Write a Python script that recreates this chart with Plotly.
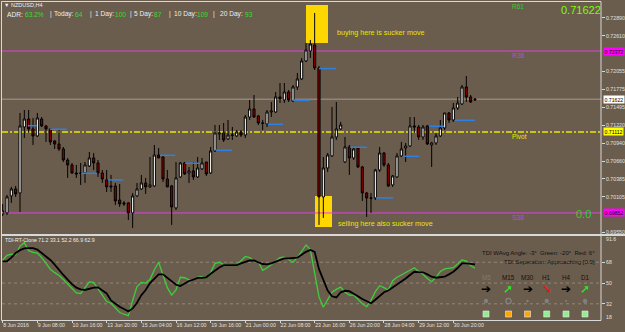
import plotly.graph_objects as go

# ---------------- data ----------------
bar_idx = list(range(110))
opens = [0.69837,0.69852,0.70117,0.70225,0.70163,0.71190,0.71314,0.71159,0.71050,0.71314,
         0.71206,0.71159,0.70972,0.70925,0.70848,0.70676,0.70599,0.70474,0.70467,0.70474,
         0.70583,0.70708,0.70630,0.70474,0.70366,0.70272,0.70272,0.70054,0.70008,0.70008,
         0.69852,0.70117,0.70225,0.70319,0.70257,0.70272,0.70754,0.70723,0.70381,0.70272,
         0.69930,0.70412,0.70630,0.70474,0.70506,0.70412,0.70537,0.70645,0.70474,0.70817,
         0.71081,0.71097,0.71003,0.71058,0.71050,0.71112,0.71065,0.71345,0.71470,0.71361,
         0.71244,0.71237,0.71423,0.71423,0.71657,0.71610,0.71734,0.71594,0.71812,0.71937,
         0.72217,0.72372,0.72466,0.72108,0.70101,0.70552,0.70739,0.71034,0.71159,0.70645,
         0.70879,0.70708,0.70863,0.70568,0.70163,0.70078,0.70086,0.70521,0.70785,0.70599,
         0.70288,0.70412,0.70739,0.70863,0.70894,0.71206,0.71190,0.71034,0.71206,0.70910,
         0.70941,0.71050,0.71174,0.71408,0.71299,0.71485,0.71548,0.71812,0.71657,0.71610]
highs = [0.69992,0.70132,0.70257,0.70272,0.71408,0.71454,0.71454,0.71330,0.71408,0.71345,
         0.71221,0.71159,0.70988,0.71143,0.70879,0.70708,0.70630,0.70599,0.70630,0.70645,
         0.70801,0.70785,0.70676,0.70521,0.70521,0.70443,0.70319,0.70303,0.70039,0.70023,
         0.70163,0.70319,0.70443,0.70397,0.70723,0.70910,0.70863,0.70754,0.70521,0.70288,
         0.70645,0.70645,0.70645,0.70568,0.70645,0.70723,0.70708,0.70645,0.70879,0.71221,
         0.71221,0.71252,0.71299,0.71190,0.71143,0.71143,0.71377,0.71610,0.71688,0.71377,
         0.71299,0.71454,0.71579,0.71734,0.71874,0.71874,0.71766,0.71843,0.72030,0.72263,
         0.72497,0.72544,0.72964,0.72139,0.70723,0.70785,0.71501,0.71579,0.71268,0.71034,
         0.70910,0.70879,0.70879,0.70583,0.70179,0.70163,0.70537,0.70879,0.70801,0.70630,
         0.70443,0.70785,0.70957,0.70941,0.71345,0.71345,0.71221,0.71221,0.71221,0.70957,
         0.71097,0.71299,0.71408,0.71423,0.71563,0.71657,0.71843,0.71983,0.71688,0.71641]
lows = [0.69806,0.69821,0.70008,0.70101,0.69868,0.71019,0.71097,0.70910,0.71034,0.71190,
        0.70957,0.70910,0.70848,0.70817,0.70645,0.70397,0.70459,0.70397,0.70288,0.70319,
        0.70568,0.70521,0.70412,0.70319,0.70179,0.70179,0.69977,0.69946,0.69961,0.69743,
        0.69619,0.70101,0.70210,0.70148,0.70241,0.70257,0.70708,0.70334,0.70257,0.69666,
        0.69899,0.70397,0.70443,0.70319,0.70366,0.70397,0.70521,0.70428,0.70459,0.70801,
        0.70988,0.70957,0.70988,0.70988,0.71034,0.71034,0.71019,0.71299,0.71330,0.71221,
        0.71143,0.71190,0.71345,0.71408,0.71563,0.71563,0.71579,0.71579,0.71766,0.71921,
        0.72201,0.72263,0.72077,0.69666,0.69775,0.70490,0.70723,0.70988,0.71143,0.70630,
        0.70443,0.70676,0.70552,0.70039,0.69790,0.69852,0.70054,0.70490,0.70568,0.70257,
        0.70257,0.70397,0.70723,0.70645,0.70879,0.71097,0.70988,0.70988,0.70910,0.70568,
        0.70910,0.71034,0.71143,0.71252,0.71268,0.71454,0.71532,0.71579,0.71563,0.71594]
closes = [0.69884,0.70101,0.70225,0.70148,0.71206,0.71314,0.71159,0.71050,0.71330,0.71206,
          0.71159,0.70957,0.70925,0.70848,0.70676,0.70599,0.70474,0.70459,0.70474,0.70599,
          0.70708,0.70630,0.70474,0.70381,0.70257,0.70257,0.70039,0.69992,0.69992,0.69852,
          0.70117,0.70225,0.70319,0.70257,0.70288,0.70754,0.70708,0.70381,0.70257,0.69946,
          0.70397,0.70630,0.70459,0.70506,0.70412,0.70552,0.70630,0.70459,0.70817,0.71097,
          0.71097,0.70988,0.71065,0.71065,0.71112,0.71065,0.71345,0.71470,0.71345,0.71252,
          0.71252,0.71423,0.71439,0.71657,0.71626,0.71734,0.71610,0.71812,0.71937,0.72217,
          0.72388,0.72481,0.72108,0.70101,0.70552,0.70754,0.71034,0.71159,0.71221,0.70879,
          0.70708,0.70848,0.70568,0.70163,0.70086,0.70086,0.70521,0.70785,0.70599,0.70272,
          0.70428,0.70739,0.70848,0.70894,0.71206,0.71190,0.71034,0.71190,0.70925,0.70941,
          0.71050,0.71174,0.71408,0.71299,0.71485,0.71563,0.71812,0.71657,0.71579,0.71622]

tdi_green = [70, 74, 75, 74.5, 82, 85, 78, 76.5, 76, 72,
             67, 62, 59, 56.5, 53, 49, 45, 41.5, 41, 46,
             51, 50.5, 45, 39, 34, 32.5, 28, 24.5, 23, 21.7,
             35, 47, 50.5, 50, 53, 61.5, 68, 57, 46, 39.6,
             44, 55, 54.6, 52.8, 53, 55, 55.5, 54.5, 59, 67,
             68, 66, 65.6, 65.6, 65.6, 69, 73, 72, 69, 68.5,
             61, 63, 66, 69.5, 72, 72.5, 70, 68, 72, 77,
             83, 79, 60, 38, 29, 36, 42, 44.5, 46.5, 42,
             39.6, 39.6, 36, 32, 29.5, 35, 42.5, 47.7, 46, 44,
             52, 55, 57, 59, 61.5, 63.3, 60, 57.6, 54, 51.2,
             55, 60, 62.2, 62.5, 63.3, 66.5, 70, 69, 65, 62.8]
tdi_black = [68.5, 69, 72, 76, 78.5, 80, 80.3, 80.3, 79, 76,
             73, 70, 66, 61, 57, 53, 49, 46, 44.5, 44,
             45, 46, 46.3, 44, 41, 35, 32, 29.5, 27.5, 25.5,
             28, 33, 39.5, 44, 50, 54, 57.5, 57.5, 54.5, 51.5,
             48.5, 47.5, 49.5, 51.8, 53, 54.5, 54.6, 55, 58, 61,
             63.5, 65.5, 65.6, 65.6, 65.6, 67, 68.5, 69.5, 69.5, 68,
             66.5, 66.2, 67, 68.5, 70, 71.4, 71.4, 71.4, 72, 74.5,
             77, 78.6, 77, 62, 52, 43.5, 38.5, 37.5, 42, 43.3,
             43, 41, 38.5, 36.2, 34, 32.5, 35.5, 38.5, 42, 43.5,
             46, 48.5, 51, 54, 57, 59.8, 59.5, 59.3, 57.5, 55.5,
             54.6, 55, 55.5, 57.5, 59.8, 63, 67, 67, 66.5, 66.2]

daily_open_start = [5.8, 10.9, 18.1, 24.3, 36.3, 42.1, 49.2, 61.2, 67.0, 73.0, 80.2, 86.2, 92.4, 98.4, 104.4]
daily_open_end   = [7.9, 14.8, 21.8, 27.8, 39.8, 45.5, 52.9, 64.7, 70.9, 76.9, 84.1, 90.1, 96.1, 101.9, 109.0]
daily_open_level = [0.71210, 0.71154, 0.70469, 0.70366, 0.70749, 0.70625, 0.70827, 0.71232,
                    0.71605, 0.72099, 0.70874, 0.70086, 0.70734, 0.71201, 0.71294]

price_ticks = [0.72890, 0.72610, 0.72055, 0.71775, 0.71495, 0.71220,
               0.70940, 0.70660, 0.70385, 0.70105, 0.69550]
tdi_ticks = [68, 50, 32]
time_tick_idx = [0, 8, 16, 24, 32, 40, 48, 56, 64, 72, 80, 88, 96, 104]
time_tick_labels = ["8 Jun 2016", "9 Jun 08:00", "10 Jun 16:00", "13 Jun 20:00", "15 Jun 04:00",
                    "16 Jun 12:00", "19 Jun 16:00", "21 Jun 00:00", "22 Jun 08:00", "23 Jun 16:00",
                    "26 Jun 20:00", "28 Jun 04:00", "29 Jun 12:00", "30 Jun 20:00"]

pivot = 0.71112
r38 = 0.72372
s38 = 0.69852
last_price = 0.71622

header_parts = [("ADR:", "w"), ("63.2%", "g"), ("|", "w"), ("Today:", "w"), ("64", "g"),
                ("|", "w"), ("1 Day:", "w"), ("100", "g"), ("|", "w"), ("5 Day:", "w"),
                ("87", "g"), ("|", "w"), ("10 Day:", "w"), ("109", "g"), ("|", "w"),
                ("20 Day:", "w"), ("93", "g")]
tf_labels = ["M5", "M15", "M30", "H1", "H4", "D1"]
tf_arrows = ["➔", "➚", "➔", "➘", "➔", "➚"]
tf_arrow_colors = ["#000000", "#22ee22", "#000000", "#ee1111", "#000000", "#22ee22"]
tf_square_colors = ["#90ee90", "#ffa500", "#ffa500", "#90ee90", "#90ee90", "#90ee90"]

# ---------------- layout helpers (pixel -> paper) ----------------
W, H = 625, 332
L_PX, R_PX, T_PX, B_PX = 2, 601, 3, 320
def PX(x): return (x - L_PX) / (R_PX - L_PX)
def PY(y): return (B_PX - y) / (B_PX - T_PX)

BG = "#6b5d4d"
FG = "#d8d8d8"
FONT = "Liberation Sans"
XR = [-0.155, 138.08]

fig = go.Figure()

fig.add_trace(go.Candlestick(
    x=bar_idx, open=opens, high=highs, low=lows, close=closes,
    increasing=dict(line=dict(color="black", width=1), fillcolor="white"),
    decreasing=dict(line=dict(color="black", width=1), fillcolor="#8b0000"),
    whiskerwidth=0, xaxis="x", yaxis="y", showlegend=False, hoverinfo="skip"))

bx, by = [], []
for s, e, v in zip(daily_open_start, daily_open_end, daily_open_level):
    bx += [s, e, None]
    by += [v, v, None]
fig.add_trace(go.Scatter(x=bx, y=by, mode="lines", line=dict(color="#2f80e0", width=1.5),
                         xaxis="x", yaxis="y", showlegend=False, hoverinfo="skip"))

fig.add_trace(go.Scatter(x=bar_idx, y=tdi_green, mode="lines", line=dict(color="#3ccf3c", width=1.3),
                         xaxis="x2", yaxis="y2", showlegend=False, hoverinfo="skip"))
fig.add_trace(go.Scatter(x=bar_idx, y=tdi_black, mode="lines", line=dict(color="#000000", width=1.8),
                         xaxis="x2", yaxis="y2", showlegend=False, hoverinfo="skip"))

shapes = []
shapes.append(dict(type="rect", xref="paper", yref="paper", x0=PX(306), x1=PX(328), y0=PY(43), y1=PY(5),
                   fillcolor="#ffd700", line=dict(width=0), layer="below"))
shapes.append(dict(type="rect", xref="paper", yref="paper", x0=PX(315), x1=PX(332), y0=PY(227), y1=PY(196),
                   fillcolor="#ffd700", line=dict(width=0), layer="below"))
for lvl, col, dash, wd in [(r38, "#e040e0", "solid", 1), (s38, "#e040e0", "solid", 1),
                           (last_price, "#a09a94", "solid", 1), (pivot, "#e8e800", "6px,2px,2px,2px", 1.5)]:
    shapes.append(dict(type="line", xref="paper", yref="y", x0=0, x1=1, y0=lvl, y1=lvl,
                       line=dict(color=col, width=wd, dash=dash), layer="below"))
for t in tdi_ticks:
    shapes.append(dict(type="line", xref="paper", yref="y2", x0=0, x1=1, y0=t, y1=t,
                       line=dict(color="#958777", width=1, dash="dot"), layer="below"))
shapes.append(dict(type="rect", xref="paper", yref="paper", x0=PX(1.5), x1=PX(601), y0=PY(320.5), y1=PY(1.5),
                   line=dict(color=FG, width=1)))
shapes.append(dict(type="line", xref="paper", yref="paper", x0=PX(1.5), x1=PX(625), y0=PY(235), y1=PY(235),
                   line=dict(color=FG, width=2)))

tf_x = [486, 508.5, 527.5, 546.7, 566, 585]
for i, cx in enumerate(tf_x):
    shapes.append(dict(type="rect", xref="paper", yref="paper", x0=PX(cx - 3), x1=PX(cx + 3),
                       y0=PY(317), y1=PY(311), fillcolor=tf_square_colors[i],
                       line=dict(color="#e8e8e8", width=0.6)))
dot_r = [2.2, 2.5, 1.2, 2.2, 1.0, 2.2]
for i, cx in enumerate(tf_x):
    if i == 1:
        shapes.append(dict(type="circle", xref="paper", yref="paper", x0=PX(cx - 2.6), x1=PX(cx + 2.6),
                           y0=PY(303.6), y1=PY(298.4), line=dict(color="#858585", width=1.2)))
    else:
        r = dot_r[i]
        shapes.append(dict(type="circle", xref="paper", yref="paper", x0=PX(cx - r), x1=PX(cx + r),
                           y0=PY(301 + r), y1=PY(301 - r), fillcolor="#808080", line=dict(width=0)))

ann = []
def A(text, x, y, size, color, xanchor="left", family=FONT, **kw):
    ann.append(dict(text=text, x=PX(x), y=PY(y), xref="paper", yref="paper", showarrow=False,
                    xanchor=xanchor, yanchor="middle", font=dict(family=family, size=size, color=color), **kw))

A("▼ NZDUSD,H4", 2, 5.5, 5.5, "#eeeeee")
hx = [5, 22.5, 47.5, 51.7, 73.3, 88.3, 93.3, 113.3, 128.3, 131.7, 151.7, 166.7, 171.7, 195, 210.7, 218.3, 243.3]
for (t, c), x in zip(header_parts, hx):
    A(t, x, 14, 6.6, "#32dd32" if c == "g" else "#eeeeee")

A("0.71622", 581, 10.5, 11, "#7cfc00", xanchor="center")
A("0.0", 583, 214, 11, "#32cd32", xanchor="center")
A("R61", 518, 6, 6.5, "#32cd32", xanchor="center")
A("R38", 518, 55.7, 6.5, "#d040d0", xanchor="center")
A("Pivot", 519, 136.7, 6.5, "#e8e800", xanchor="center")
A("S38", 518, 217.3, 6.5, "#d040d0", xanchor="center")
A("buying here is sucker move", 335, 33, 7.2, "#e6e600")
A("selling here also sucker move", 335.5, 223.3, 7.2, "#e6e600")

A("TDI-RT-Clone 71.2 33.1 52.2 66.9 62.9", 3, 240, 5.2, "#eeeeee")
A("TDI WAvg Angle: -3°  Green: -20°  Red: 6°", 597, 253.3, 6, "#111111", xanchor="right")
A("TDI Seperation: Approaching [0.9]", 597, 261.7, 6, "#111111", xanchor="right")
for i, cx in enumerate(tf_x):
    A(tf_labels[i], cx, 277.3, 6.3, "#85786b" if i == 0 else "#111111", xanchor="center")
    A(tf_arrows[i], cx, 289, 12, tf_arrow_colors[i], xanchor="center", family="DejaVu Sans")

for val, bg, txt in [(r38, "#ff00ff", f"{r38:.5f}"), (last_price, "#ffffff", f"{last_price:.5f}"),
                     (pivot, "#ffff00", f"{pivot:.5f}"), (s38, "#ff00ff", f"{s38:.5f}")]:
    ann.append(dict(text=txt, x=1, y=val, xref="paper", yref="y", showarrow=False, xanchor="left",
                    yanchor="middle", xshift=2, bgcolor=bg, borderpad=0.5,
                    font=dict(family=FONT, size=5.2, color="#000000")))
A("91.6", 604, 239.3, 5.2, "#e0e0e0")
A("18", 604, 317.3, 5.2, "#e0e0e0")

main_lo = (B_PX - 233) / (B_PX - T_PX)
ind_hi = (B_PX - 235) / (B_PX - T_PX)

fig.update_layout(
    width=W, height=H, margin=dict(l=L_PX, r=W - R_PX, t=T_PX, b=H - B_PX),
    paper_bgcolor=BG, plot_bgcolor=BG, template="none", showlegend=False,
    shapes=shapes, annotations=ann,
    xaxis=dict(domain=[0, 1], range=XR, anchor="y", showticklabels=False, showgrid=False,
               zeroline=False, showline=False, ticks="", rangeslider=dict(visible=False),
               automargin=False, fixedrange=True),
    yaxis=dict(domain=[main_lo, 1], range=[0.69540, 0.73119], side="right", anchor="x",
               tickvals=price_ticks, ticktext=[f"{v:.5f}" for v in price_ticks],
               ticks="outside", ticklen=3, tickcolor=FG, showgrid=False, zeroline=False,
               showline=False, tickfont=dict(family=FONT, size=5.2, color="#e0e0e0"),
               automargin=False, fixedrange=True),
    xaxis2=dict(domain=[0, 1], range=XR, anchor="y2", tickvals=time_tick_idx, ticktext=time_tick_labels,
                ticks="outside", ticklen=2, tickcolor=FG, ticklabelposition="outside right",
                tickangle=0, tickfont=dict(family=FONT, size=5.2, color="#e0e0e0"), showgrid=False,
                zeroline=False, showline=False, automargin=False, fixedrange=True),
    yaxis2=dict(domain=[0, ind_hi], range=[18, 91.6], side="right", anchor="x2",
                tickvals=tdi_ticks, ticktext=[str(t) for t in tdi_ticks], ticks="outside", ticklen=3,
                tickcolor=FG, showgrid=False, zeroline=False, showline=False,
                tickfont=dict(family=FONT, size=5.2, color="#e0e0e0"), automargin=False, fixedrange=True),
)

fig.write_html("out.html")
